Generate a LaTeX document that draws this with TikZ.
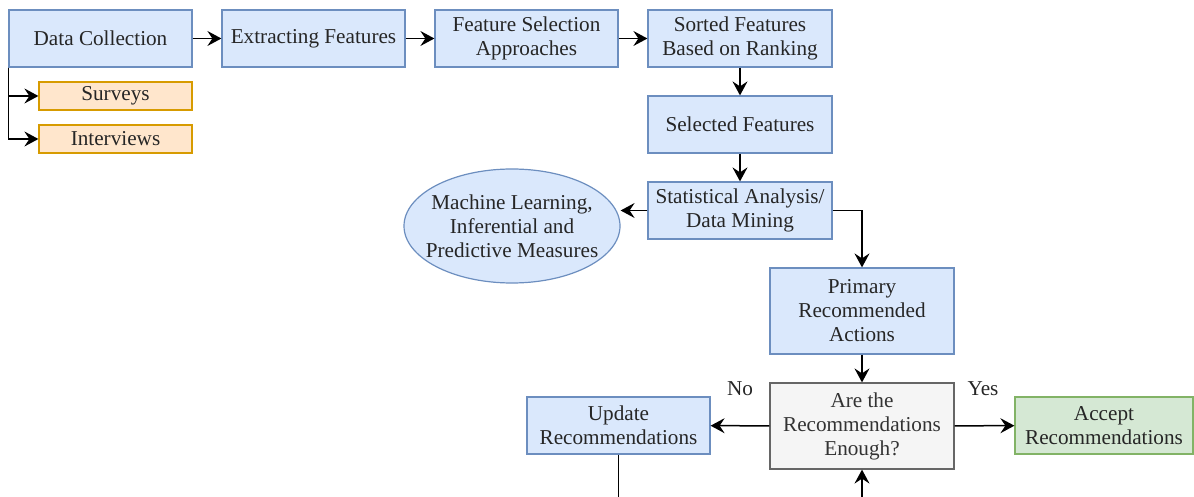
\documentclass[tikz,border=0pt]{standalone}
\usepackage{fontspec}
\setmainfont{Liberation Serif}
\usetikzlibrary{arrows.meta,shapes.geometric}
\definecolor{bfill}{HTML}{DAE8FC}
\definecolor{bdraw}{HTML}{6C8EBF}
\definecolor{ofill}{HTML}{FFE6CC}
\definecolor{odraw}{HTML}{D79B00}
\definecolor{gfill}{HTML}{D5E8D4}
\definecolor{gdraw}{HTML}{82B366}
\definecolor{kfill}{HTML}{F5F5F5}
\definecolor{kdraw}{HTML}{666666}
\definecolor{ktext}{HTML}{333333}
\tikzset{
  basebox/.style={rectangle, inner sep=0pt, align=center, line width=0.6pt,
    font=\fontsize{10.6}{12}\selectfont, text=black!85},
  bluebox/.style={basebox, fill=bfill, draw=bdraw, minimum width=91.5pt, minimum height=28.5pt},
  orangebox/.style={basebox, fill=ofill, draw=odraw, minimum width=76.5pt, minimum height=14pt},
  greenbox/.style={basebox, fill=gfill, draw=gdraw, minimum width=89pt, minimum height=28.5pt},
  graybox/.style={basebox, fill=kfill, draw=kdraw, text=ktext, minimum width=92pt, minimum height=43pt},
  tallbox/.style={bluebox, minimum width=92pt, minimum height=43pt},
  oval/.style={basebox, ellipse, fill=bfill, draw=bdraw, inner xsep=-30pt, inner ysep=-20pt,
    minimum width=108pt, minimum height=57pt},
  lbl/.style={font=\fontsize{10.6}{12}\selectfont, text=black!85, inner sep=0pt},
  conn/.style={line width=0.75pt, -{Stealth[length=7pt,width=7.5pt,inset=2.5pt]}},
}
\begin{document}
\begin{tikzpicture}[x=0.5pt,y=-0.5pt]
\useasboundingbox (0,0) rectangle (1194,497);
\clip (0,0) rectangle (1194,497);
\node[bluebox] (dc) at (100.5,38.5) {Data Collection};
\node[bluebox] (ef) at (313.5,38.5) {Extracting Features};
\node[bluebox] (fs) at (526.5,38.5) {Feature Selection\\Approaches};
\node[bluebox, minimum width=92pt] (sf) at (740,38.5) {Sorted Features\\Based on Ranking};
\node[bluebox, minimum width=92pt] (sel) at (740,124.5) {Selected Features};
\node[bluebox, minimum width=92pt] (sa) at (740,210.5) {Statistical Analysis/\\Data Mining};
\node[oval] (ml) at (512,226) {Machine Learning,\\Inferential and\\Predictive Measures};
\node[tallbox] (pra) at (862,311) {Primary\\Recommended\\Actions};
\node[graybox] (dec) at (862,426) {Are the\\Recommendations\\Enough?};
\node[bluebox] (upd) at (618.5,425.5) {Update\\Recommendations};
\node[greenbox] (acc) at (1104,425.5) {Accept\\Recommendations};
\node[orangebox] (sur) at (115.5,96) {Surveys};
\node[orangebox] (int) at (115.5,139) {Interviews};
\node[lbl] (no) at (740,389) {No};
\node[lbl] (yes) at (983,389) {Yes};

\draw[conn] (dc) -- (ef);
\draw[conn] (ef) -- (fs);
\draw[conn] (fs) -- (sf);
\draw[conn] (sf) -- (sel);
\draw[conn] (sel) -- (sa);
\draw[conn] (sa.west) -- (ml.east |- sa.west);
\draw[conn] (sa.east) -| (pra.north);
\draw[conn] (pra) -- (dec);
\draw[conn] (dec) -- (upd);
\draw[conn] (dec) -- (acc);
\draw[conn] (dc.south west) |- (sur.west);
\draw[conn] (dc.south west) |- (int.west);
\coordinate (loop) at (740,560);
\draw[conn] (upd.south) |- (loop) -| (dec.south);
\end{tikzpicture}
\end{document}
